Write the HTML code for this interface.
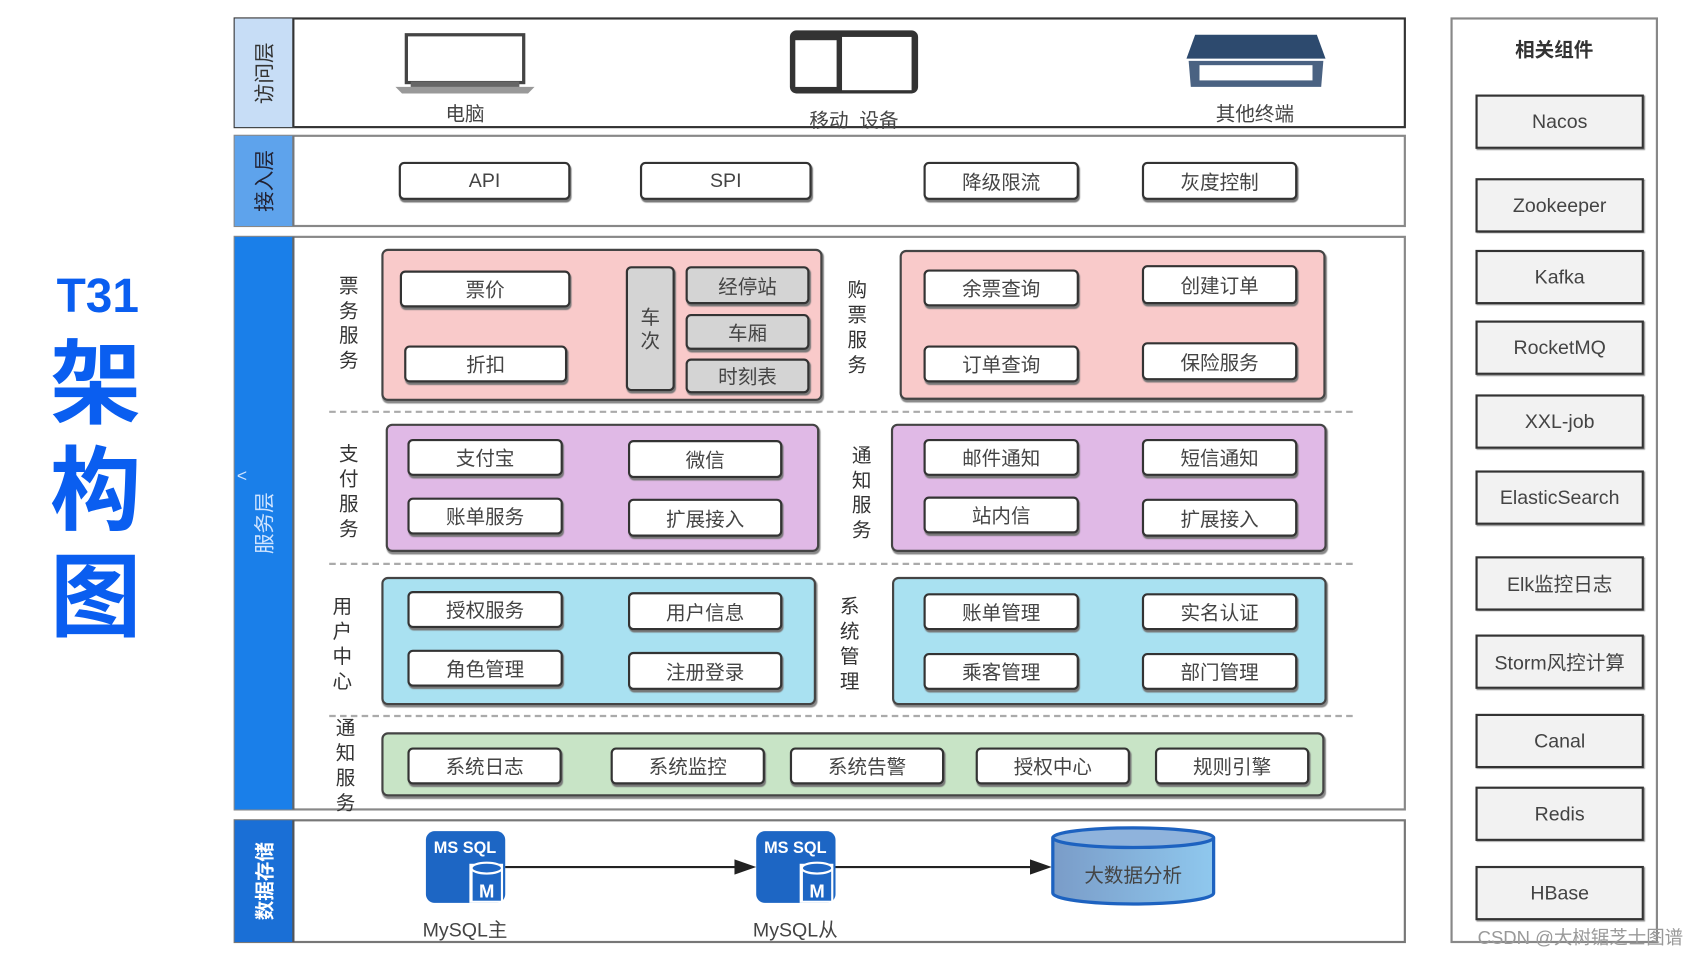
<!DOCTYPE html>
<html><head><meta charset="utf-8">
<style>
html,body{margin:0;padding:0;background:#fff;width:1704px;height:954px;overflow:hidden}
#w{position:absolute;left:0;top:0;width:1560px;height:873px;transform:scale(1.0865,1.0865);transform-origin:0 0;font-family:"Liberation Sans","Noto Sans CJK SC",sans-serif;color:#333}
#w div{position:absolute;box-sizing:border-box}
.b{background:#fff;border:2px solid #333;border-radius:5px;box-shadow:1px 2px 1px #777;display:flex;align-items:center;justify-content:center;font-size:18px;color:#444}
.g{background:#d4d4d4}
.frame{border:2px solid #555;background:#fff}
.side{display:flex;align-items:center;justify-content:center}
.side span{transform:rotate(-90deg);white-space:nowrap;font-size:19px}
.vl{width:24px;font-size:18px;line-height:23px;text-align:center;color:#333}
.grp{border:2px solid #444;border-radius:6px;box-shadow:1px 2px 1px #888}
.dash{height:0;border-top:2px dashed #aaa}
.c{display:flex;align-items:center;justify-content:center;font-size:18px;color:#444}
.rb{background:#f2f2f2;border:2px solid #333;box-shadow:1px 1px 1px #888;display:flex;align-items:center;justify-content:center;font-size:18px;color:#444}
</style></head><body><div id="w">

<div style="left:44px;top:248px;width:92px;text-align:center;color:#0a5ef0;font-weight:bold;font-size:44px;line-height:50px">T31</div>
<div style="left:40px;top:305px;width:96px;text-align:center;color:#0a5ef0;font-weight:bold;font-size:84px;line-height:98px">架<br>构<br>图</div>

<div class="frame" style="left:215px;top:16px;width:1079px;height:102px;border-color:#333"></div>
<div class="side" style="left:216px;top:17px;width:55px;height:100px;background:#c7ddf6;border-right:2px solid #333"><span style="color:#333">访问层</span></div>
<svg style="position:absolute;left:360px;top:28px" width="140" height="62"><rect x="14" y="4" width="108" height="44" fill="#fff" stroke="#444" stroke-width="3"/><path d="M4 52 L132 52 L126 58 L10 58 Z" fill="#999"/><rect x="18" y="47" width="100" height="5" fill="#666"/></svg>
<div class="c" style="left:388px;top:92px;width:80px;height:24px">电脑</div>
<svg style="position:absolute;left:725px;top:26px" width="124" height="64"><rect x="2" y="2" width="118" height="58" rx="6" fill="#333"/><rect x="7" y="11" width="38" height="43" fill="#fff"/><rect x="50" y="8" width="64" height="49" fill="#fff"/></svg>
<div class="c" style="left:730px;top:98px;width:112px;height:24px">移动&nbsp;&nbsp;设备</div>
<svg style="position:absolute;left:1088px;top:30px" width="136" height="54"><path d="M12 2 L124 2 L132 24 L4 24 Z" fill="#2d4a6e"/><path d="M6 26 L130 26 L128 50 L8 50 Z" fill="#4a6282"/><rect x="16" y="30" width="104" height="14" fill="#fff"/></svg>
<div class="c" style="left:1110px;top:92px;width:90px;height:24px">其他终端</div>

<div class="frame" style="left:215px;top:124px;width:1079px;height:85px;border-color:#888"></div>
<div class="side" style="left:216px;top:125px;width:55px;height:83px;background:#5ea3ec;border-right:2px solid #777"><span style="color:#223">接入层</span></div>
<div class="b" style="left:367px;top:149px;width:158px;height:35px">API</div>
<div class="b" style="left:589px;top:149px;width:158px;height:35px">SPI</div>
<div class="b" style="left:850px;top:149px;width:143px;height:35px">降级限流</div>
<div class="b" style="left:1051px;top:149px;width:143px;height:35px">灰度控制</div>

<div class="frame" style="left:215px;top:217px;width:1079px;height:529px;border-color:#888"></div>
<div class="side" style="left:216px;top:218px;width:55px;height:527px;background:#1a7fe9;border-right:2px solid #666"><span style="color:#cfe4ff">服务层</span></div>
<div style="left:218px;top:430px;color:#cfe4ff;font-size:16px">&lt;</div>

<div class="vl" style="left:309px;top:252px">票<br>务<br>服<br>务</div>
<div class="grp" style="left:351px;top:229px;width:406px;height:140px;background:#f9caca"></div>
<div class="b" style="left:368px;top:249px;width:157px;height:34px">票价</div>
<div class="b" style="left:372px;top:318px;width:150px;height:34px">折扣</div>
<div class="b g" style="left:576px;top:245px;width:45px;height:115px;line-height:22px;text-align:center">车<br>次</div>
<div class="b g" style="left:631px;top:245px;width:114px;height:35px">经停站</div>
<div class="b g" style="left:631px;top:289px;width:114px;height:33px">车厢</div>
<div class="b g" style="left:631px;top:330px;width:114px;height:32px">时刻表</div>

<div class="vl" style="left:777px;top:256px">购<br>票<br>服<br>务</div>
<div class="grp" style="left:828px;top:230px;width:392px;height:138px;background:#f9caca"></div>
<div class="b" style="left:850px;top:248px;width:143px;height:34px">余票查询</div>
<div class="b" style="left:1051px;top:244px;width:143px;height:36px">创建订单</div>
<div class="b" style="left:850px;top:318px;width:143px;height:34px">订单查询</div>
<div class="b" style="left:1051px;top:315px;width:143px;height:35px">保险服务</div>

<div class="dash" style="left:303px;top:378px;width:942px"></div>

<div class="vl" style="left:309px;top:407px">支<br>付<br>服<br>务</div>
<div class="grp" style="left:355px;top:390px;width:399px;height:118px;background:#e0b9e6"></div>
<div class="b" style="left:375px;top:404px;width:143px;height:34px">支付宝</div>
<div class="b" style="left:578px;top:405px;width:142px;height:35px">微信</div>
<div class="b" style="left:375px;top:458px;width:143px;height:34px">账单服务</div>
<div class="b" style="left:578px;top:459px;width:142px;height:35px">扩展接入</div>

<div class="vl" style="left:781px;top:408px">通<br>知<br>服<br>务</div>
<div class="grp" style="left:820px;top:390px;width:401px;height:118px;background:#e0b9e6"></div>
<div class="b" style="left:850px;top:404px;width:143px;height:34px">邮件通知</div>
<div class="b" style="left:1051px;top:404px;width:143px;height:34px">短信通知</div>
<div class="b" style="left:850px;top:457px;width:143px;height:34px">站内信</div>
<div class="b" style="left:1051px;top:459px;width:143px;height:35px">扩展接入</div>

<div class="dash" style="left:303px;top:518px;width:942px"></div>

<div class="vl" style="left:303px;top:547px">用<br>户<br>中<br>心</div>
<div class="grp" style="left:351px;top:531px;width:400px;height:118px;background:#a9e1f1"></div>
<div class="b" style="left:375px;top:544px;width:143px;height:34px">授权服务</div>
<div class="b" style="left:578px;top:545px;width:142px;height:35px">用户信息</div>
<div class="b" style="left:375px;top:598px;width:143px;height:34px">角色管理</div>
<div class="b" style="left:578px;top:600px;width:142px;height:35px">注册登录</div>

<div class="vl" style="left:770px;top:547px">系<br>统<br>管<br>理</div>
<div class="grp" style="left:821px;top:531px;width:400px;height:118px;background:#a9e1f1"></div>
<div class="b" style="left:850px;top:546px;width:143px;height:34px">账单管理</div>
<div class="b" style="left:1051px;top:546px;width:143px;height:34px">实名认证</div>
<div class="b" style="left:850px;top:601px;width:143px;height:34px">乘客管理</div>
<div class="b" style="left:1051px;top:601px;width:143px;height:34px">部门管理</div>

<div class="dash" style="left:303px;top:658px;width:942px"></div>

<div class="vl" style="left:306px;top:659px">通<br>知<br>服<br>务</div>
<div class="grp" style="left:351px;top:674px;width:868px;height:59px;background:#c8e4c6"></div>
<div class="b" style="left:375px;top:688px;width:142px;height:34px">系统日志</div>
<div class="b" style="left:562px;top:688px;width:142px;height:34px">系统监控</div>
<div class="b" style="left:727px;top:688px;width:142px;height:34px">系统告警</div>
<div class="b" style="left:898px;top:688px;width:142px;height:34px">授权中心</div>
<div class="b" style="left:1063px;top:688px;width:142px;height:34px">规则引擎</div>

<div class="frame" style="left:215px;top:754px;width:1079px;height:114px;border-color:#777"></div>
<div class="side" style="left:216px;top:755px;width:55px;height:112px;background:#1a6fd6;border-right:2px solid #555"><span style="color:#fff;font-weight:bold;font-size:18px">数据存储</span></div>

<svg style="position:absolute;left:380px;top:760px" width="760" height="80">
<defs><linearGradient id="cg" x1="0" x2="1"><stop offset="0" stop-color="#7a9cc8"/><stop offset="1" stop-color="#8fc8ee"/></linearGradient></defs>
<g transform="translate(12,5)"><rect width="73" height="66" rx="8" fill="#1d66c4"/><text x="36" y="20" fill="#fff" font-family="Liberation Sans" font-weight="bold" font-size="15" text-anchor="middle">MS SQL</text><rect x="40" y="30" width="31" height="36" fill="#fff"/><rect x="43" y="36" width="26" height="28" fill="#1d66c4"/><ellipse cx="56" cy="34" rx="14" ry="5" fill="#1d66c4" stroke="#fff" stroke-width="2"/><text x="56" y="61" fill="#fff" font-family="Liberation Sans" font-weight="bold" font-size="17" text-anchor="middle">M</text></g>
<g transform="translate(316,5)"><rect width="73" height="66" rx="8" fill="#1d66c4"/><text x="36" y="20" fill="#fff" font-family="Liberation Sans" font-weight="bold" font-size="15" text-anchor="middle">MS SQL</text><rect x="40" y="30" width="31" height="36" fill="#fff"/><rect x="43" y="36" width="26" height="28" fill="#1d66c4"/><ellipse cx="56" cy="34" rx="14" ry="5" fill="#1d66c4" stroke="#fff" stroke-width="2"/><text x="56" y="61" fill="#fff" font-family="Liberation Sans" font-weight="bold" font-size="17" text-anchor="middle">M</text></g>
<line x1="85" y1="38" x2="300" y2="38" stroke="#222" stroke-width="2"/><path d="M296 31 L316 38 L296 45 Z" fill="#222"/>
<line x1="389" y1="38" x2="572" y2="38" stroke="#222" stroke-width="2"/><path d="M568 31 L588 38 L568 45 Z" fill="#222"/>
<path d="M589 11 L589 62 A74 10 0 0 0 737 62 L737 11" fill="url(#cg)" stroke="#1d62c0" stroke-width="3"/>
<ellipse cx="663" cy="11" rx="74" ry="9" fill="#8fb3dc" stroke="#1d62c0" stroke-width="3"/>
</svg>
<div class="c" style="left:968px;top:792px;width:150px;height:26px">大数据分析</div>
<div class="c" style="left:378px;top:843px;width:100px;height:24px">MySQL主</div>
<div class="c" style="left:682px;top:843px;width:100px;height:24px">MySQL从</div>

<div style="left:1335px;top:16px;width:191px;height:852px;border:2px solid #888;background:#fff"></div>
<div style="left:1335px;top:32px;width:191px;text-align:center;font-weight:bold;font-size:18px;color:#333">相关组件</div>
<div class="rb" style="left:1358px;top:87px;width:155px;height:50px">Nacos</div>
<div class="rb" style="left:1358px;top:164px;width:155px;height:50px">Zookeeper</div>
<div class="rb" style="left:1358px;top:230px;width:155px;height:50px">Kafka</div>
<div class="rb" style="left:1358px;top:295px;width:155px;height:50px">RocketMQ</div>
<div class="rb" style="left:1358px;top:363px;width:155px;height:50px">XXL-job</div>
<div class="rb" style="left:1358px;top:433px;width:155px;height:50px">ElasticSearch</div>
<div class="rb" style="left:1358px;top:512px;width:155px;height:50px">Elk监控日志</div>
<div class="rb" style="left:1358px;top:584px;width:155px;height:50px">Storm风控计算</div>
<div class="rb" style="left:1358px;top:657px;width:155px;height:50px">Canal</div>
<div class="rb" style="left:1358px;top:724px;width:155px;height:50px">Redis</div>
<div class="rb" style="left:1358px;top:797px;width:155px;height:50px">HBase</div>
<div style="left:1360px;top:849px;font-size:17px;color:#999;white-space:nowrap">CSDN @大树锯芝士图谱</div>

</div></body></html>
